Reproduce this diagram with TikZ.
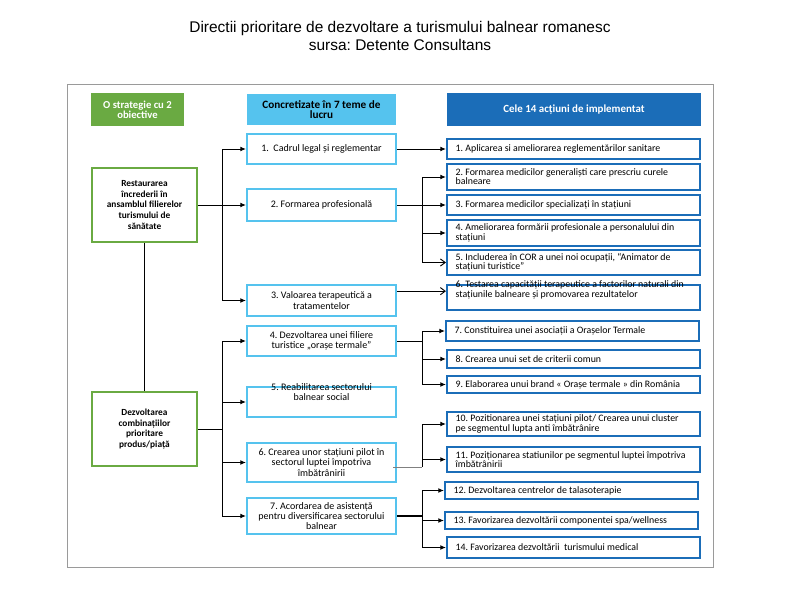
\documentclass[tikz,border=0pt]{standalone}
\usepackage{fontspec}
\setmainfont{Carlito}
\newfontfamily\titlefont{Liberation Sans}
\usetikzlibrary{arrows.meta}
\frenchspacing
\hyphenpenalty=10000
\definecolor{ink}{HTML}{000000}
\definecolor{framegray}{HTML}{9A9A9A}
\definecolor{accentgreen}{HTML}{6AAA42}
\definecolor{accentcyan}{HTML}{55C3EE}
\definecolor{accentnavy}{HTML}{1B6DB8}
\tikzset{
  flowarr/.style={-{Latex[length=4.2pt,width=3.6pt]},line width=0.7pt,color=ink},
  openarr/.style={-{Straight Barb[length=3.6pt,width=5.4pt]},line width=0.7pt,color=ink},
  busline/.style={line width=0.7pt,color=ink},
  greenhead/.style={fill=accentgreen,text=white,font=\fontsize{8}{7.2}\selectfont\bfseries,align=center,inner sep=1pt,minimum width=69.75pt,minimum height=24.75pt},
  greencard/.style={draw=accentgreen,fill=white,line width=1.6pt,font=\fontsize{7}{7.9}\selectfont\bfseries,align=center,inner sep=1pt,minimum width=78.75pt,minimum height=55.5pt},
  cyanhead/.style={fill=accentcyan,font=\fontsize{8.4}{7}\selectfont\bfseries,align=center,inner sep=1pt,minimum width=111.75pt,minimum height=23.25pt},
  cyancard/.style={draw=accentcyan,fill=white,line width=1.6pt,font=\fontsize{7.5}{7.8}\selectfont,align=center,inner sep=1pt,minimum width=111.75pt},
  navyhead/.style={fill=accentnavy,text=white,font=\fontsize{8.2}{7}\selectfont\bfseries,align=center,inner sep=1pt,minimum width=190.5pt,minimum height=24.75pt},
  navytext/.style={font=\fontsize{7.4}{6.9}\selectfont,align=flush left,text width=176.75pt,inner xsep=6.5pt,inner ysep=1pt},
  navycard/.style={navytext,draw=accentnavy,fill=white,line width=1.6pt}
}
\begin{document}
\begin{tikzpicture}[x=0.75pt,y=-0.75pt]
  \useasboundingbox[fill=white] (0,0) rectangle (800,600);
  \node[font=\titlefont\fontsize{11.6}{13.5}\selectfont,align=center] (title) at (400,36)
    {Directii prioritare de dezvoltare a turismului balnear romanesc\\sursa: Detente Consultans};
  \draw[framegray,line width=0.6pt] (67,84) rectangle (713,567);

  % column headers
  \node[greenhead] (hstrat) at (137.5,109.5) {O strategie cu 2\\obiective};
  \node[cyanhead] (hteme) at (321.5,109.5) {Concretizate în 7 teme de\\lucru};
  \node[navyhead] (hact) at (574,109.5) {Cele 14 acțiuni de implementat};

  % objectives
  \node[greencard] (restaur) at (144.5,205) {Restaurarea\\încrederii în\\ansamblul filierelor\\turismului de\\sănătate};
  \node[greencard] (dezv) at (144.5,429) {Dezvoltarea\\combinațiilor\\prioritare\\produs/piață};
  \draw[busline] (restaur) -- (dezv);

  % themes
  \node[cyancard,minimum height=22.5pt] (t1) at (321.5,149) {1.\ \ Cadrul legal și reglementar};
  \node[cyancard,minimum height=24pt] (t2) at (321.5,205) {2. Formarea profesională};
  \node[cyancard,minimum height=23.25pt] (t3) at (321.5,300.5) {3. Valoarea terapeutică a\\tratamentelor};
  \node[cyancard,minimum height=22.5pt] (t4) at (321.5,341) {4. Dezvoltarea unei filiere\\turistice „orașe termale”};
  \node[cyancard,minimum height=22.5pt] (t5) at (321.5,402) {};
  \node[font=\fontsize{7.5}{7.8}\selectfont,align=center,inner sep=1pt] (t5txt) at (321.5,392) {5. Reabilitarea sectorului\\balnear social};
  \node[cyancard,minimum height=29.25pt] (t6) at (321.5,462.5) {6. Crearea unor stațiuni pilot în\\sectorul luptei împotriva\\îmbătrânirii};
  \node[cyancard,minimum height=27pt] (t7) at (321.5,516) {7. Acordarea de asistență\\pentru diversificarea sectorului\\balnear};

  % actions
  \node[navycard,minimum height=15pt] (a1) at (573.5,149) {1. Aplicarea si ameliorarea reglementărilor sanitare};
  \node[navycard,minimum height=19.5pt] (a2) at (573.5,177) {2. Formarea medicilor generaliști care prescriu curele\\balneare};
  \node[navycard,minimum height=15pt] (a3) at (573.5,205) {3. Formarea medicilor specializați în stațiuni};
  \node[navycard,minimum height=19.5pt] (a4) at (573.5,233) {4. Ameliorarea formării profesionale a personalului din\\stațiuni};
  \node[navycard,minimum height=18.75pt] (a5) at (573.5,262.5) {5. Includerea în COR a unei noi ocupații, “Animator de\\stațiuni turistice”};
  \node[navycard,minimum height=18.75pt] (a6) at (573.5,297.5) {};
  \node[navytext] (a6txt) at (573.5,290)
    {6. Testarea capacității terapeutice a factorilor naturali din\\stațiunile balneare și promovarea rezultatelor};
  \node[navycard,minimum height=15pt] (a7) at (572.5,331) {7. Constituirea unei asociații a Orașelor Termale};
  \node[navycard,minimum height=13.5pt] (a8) at (573.5,359) {8. Crearea unui set de criterii comun};
  \node[navycard,minimum height=12.75pt] (a9) at (573.5,384.5) {9. Elaborarea unui brand « Orașe termale » din România};
  \node[navycard,minimum height=18pt] (a10) at (573.5,424) {10. Pozitionarea unei stațiuni pilot/ Crearea unui cluster\\pe segmentul lupta anti îmbătrânire};
  \node[navycard,minimum height=18.75pt] (a11) at (573.5,459.5) {11. Poziționarea statiunilor pe segmentul luptei împotriva\\îmbătrânirii};
  \node[navycard,minimum height=12.75pt] (a12) at (571.5,490.5) {12. Dezvoltarea centrelor de talasoterapie};
  \node[navycard,minimum height=12.75pt] (a13) at (571.5,520.5) {13. Favorizarea dezvoltării componentei spa/wellness};
  \node[navycard,minimum height=15.75pt] (a14) at (573.5,547.5) {14. Favorizarea dezvoltării\ \ turismului medical};

  % buses
  \coordinate (colL) at (222,0);
  \coordinate (colR) at (422,0);

  \draw[busline] (colL |- t1.west) -- (colL |- t3.west);
  \foreach \t in {t1,t2,t3} \draw[flowarr] (colL |- \t.west) -- (\t.west);
  \draw[busline] (restaur.east) -- (restaur.east -| colL);

  \draw[busline] (dezv.east) -- (dezv.east -| colL);
  \draw[busline] (colL |- t4.west) -- (colL |- t7.west);
  \foreach \t in {t4,t5,t6,t7} \draw[flowarr] (colL |- \t.west) -- (\t.west);

  \draw[flowarr] (t1.east) -- (a1.west);

  \draw[busline] (t2.east) -- (t2.east -| colR);
  \draw[busline] (colR |- a2.west) -- (colR |- a5.west);
  \foreach \a in {a2,a3,a4} \draw[flowarr] (colR |- \a.west) -- (\a.west);
  \draw[openarr] (colR |- a5.west) -- (a5.west);

  \coordinate (j3) at ([yshift=7pt]t3.east);
  \draw[openarr] (j3) -- (j3 -| a6.west);

  \draw[busline] (t4.east) -- (t4.east -| colR);
  \draw[busline] (colR |- a7.west) -- (colR |- a9.west);
  \foreach \a in {a7,a8,a9} \draw[flowarr] (colR |- \a.west) -- (\a.west);

  \coordinate (j6) at ([yshift=-3.5pt]t6.east);
  \draw[busline,color=gray] ([xshift=-3pt]j6) -- (j6 -| colR);
  \draw[busline] (colR |- a10.west) -- (j6 -| colR);
  \foreach \a in {a10,a11} \draw[flowarr] (colR |- \a.west) -- (\a.west);

  \draw[busline,line width=1.5pt] (t7.east) -- (t7.east -| colR);
  \draw[busline] (colR |- a12.west) -- (colR |- a14.west);
  \foreach \a in {a12,a13,a14} \draw[flowarr] (colR |- \a.west) -- (\a.west);
\end{tikzpicture}
\end{document}
